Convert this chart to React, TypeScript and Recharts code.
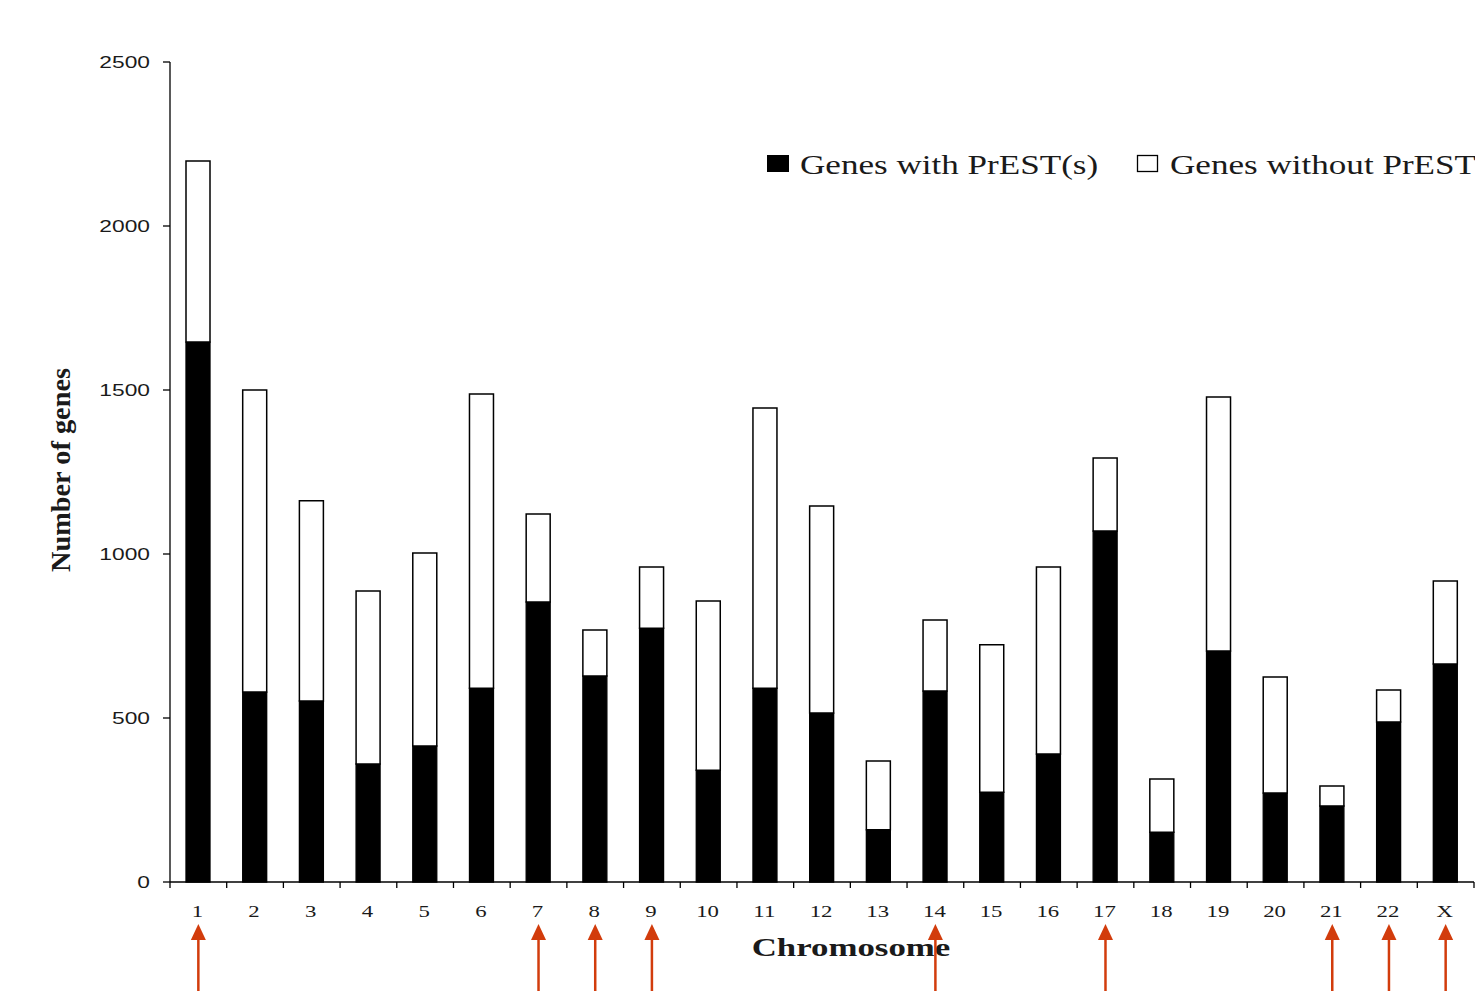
import React from 'react';
import { BarChart, Bar, XAxis, YAxis, Legend, Label } from 'recharts';

const chromosomes = ['1', '2', '3', '4', '5', '6', '7', '8', '9', '10', '11', '12', '13', '14', '15', '16', '17', '18', '19', '20', '21', '22', 'X'];
const genesWithPrest = [1646, 579, 552, 360, 415, 591, 854, 628, 774, 341, 591, 515, 159, 582, 274, 390, 1070, 152, 704, 271, 232, 488, 665];
const genesWithoutPrest = [552, 921, 610, 527, 588, 897, 268, 140, 186, 516, 854, 631, 210, 217, 449, 570, 223, 162, 775, 354, 61, 97, 253];
const highlighted = ['1', '7', '8', '9', '14', '17', '21', '22', 'X'];
const yTicks = [0, 500, 1000, 1500, 2000, 2500];
const seriesNames = ['Genes with PrEST(s)', 'Genes without PrEST'];

const data = chromosomes.map((c, i) => ({
  chromosome: c,
  withPrest: genesWithPrest[i],
  withoutPrest: genesWithoutPrest[i],
}));

const W = 1475;
const H = 991;
const LEFT = 170;
const RIGHT_MARGIN = 1;
const BAND = (W - LEFT - RIGHT_MARGIN) / chromosomes.length;
const RED = '#d23c0c';
const TEXT = '#1a1a1a';
const SX = 1.34;

const XTick = (props: any) => {
  const { x, y, payload, index } = props;
  const half = BAND / 2;
  const label = String(payload.value);
  const hl = highlighted.includes(label);
  const last = index === chromosomes.length - 1;
  return (
    <g>
      <line x1={x - half} x2={x - half} y1={y} y2={y + 6} stroke="#000" strokeWidth={1.3} />
      {last && <line x1={x + half} x2={x + half} y1={y} y2={y + 6} stroke="#000" strokeWidth={1.3} />}
      <text
        transform={`translate(${x - 1},${y + 35}) scale(${SX},1)`}
        textAnchor="middle"
        fontFamily="Liberation Serif"
        fontSize={17}
        fill={TEXT}
      >
        {label}
      </text>
      {hl && (
        <g>
          <line x1={x} x2={x} y1={y + 55} y2={H} stroke={RED} strokeWidth={2.5} />
          <polygon points={`${x},${y + 42} ${x - 7.5},${y + 58} ${x + 7.5},${y + 58}`} fill={RED} />
        </g>
      )}
    </g>
  );
};

const YTick = (props: any) => {
  const { x, y, payload } = props;
  return (
    <text
      transform={`translate(${x},${y + 6}) scale(${SX},1)`}
      textAnchor="end"
      fontFamily="Liberation Sans"
      fontSize={17}
      fill={TEXT}
    >
      {payload.value}
    </text>
  );
};

const XTitle = (props: any) => {
  const vb = props.viewBox || { x: LEFT, y: 882, width: W - LEFT, height: 109 };
  const cx = vb.x + vb.width / 2 + 29;
  return (
    <text
      transform={`translate(${cx},${vb.y + 74}) scale(${SX},1)`}
      textAnchor="middle"
      fontFamily="Liberation Serif"
      fontWeight="bold"
      fontSize={26}
      fill={TEXT}
    >
      Chromosome
    </text>
  );
};

const YTitle = (props: any) => {
  const vb = props.viewBox || { x: 0, y: 62, width: LEFT, height: 820 };
  const cy = vb.y + vb.height / 2 - 2;
  const bx = 70;
  return (
    <text
      transform={`rotate(-90, ${bx}, ${cy})`}
      x={bx}
      y={cy}
      textAnchor="middle"
      fontFamily="Liberation Serif"
      fontWeight="bold"
      fontSize={27}
      textLength={204}
      lengthAdjust="spacingAndGlyphs"
      fill={TEXT}
    >
      Number of genes
    </text>
  );
};

const LegendContent = () => (
  <svg width={725} height={50} style={{ overflow: 'visible', display: 'block' }}>
    <rect x={17} y={15} width={22} height={17} fill="#000" />
    <text transform={`translate(50,34) scale(1.3,1)`} fontFamily="Liberation Serif" fontSize={27} fill={TEXT}>
      {seriesNames[0]}
    </text>
    <rect x={387.5} y={15.5} width={20} height={16} fill="#fff" stroke="#000" strokeWidth={1.3} />
    <text transform={`translate(420,34) scale(1.3,1)`} fontFamily="Liberation Serif" fontSize={27} fill={TEXT}>
      {seriesNames[1]}
    </text>
  </svg>
);

export default function App() {
  return (
    <div style={{ position: 'absolute', left: 0, top: 0, width: W, height: H, background: '#fff', overflow: 'hidden' }}>
      <BarChart
        width={W}
        height={H}
        data={data}
        margin={{ top: 62, right: RIGHT_MARGIN, bottom: 0, left: 0 }}
        barSize={24}
      >
        <XAxis
          dataKey="chromosome"
          height={109}
          interval={0}
          tickSize={0}
          tickMargin={0}
          tickLine={false}
          tick={<XTick />}
          axisLine={{ stroke: '#000', strokeWidth: 1.3 }}
        >
          <Label content={<XTitle />} />
        </XAxis>
        <YAxis
          width={LEFT}
          domain={[0, 2500]}
          ticks={yTicks}
          interval={0}
          tickSize={7}
          tickMargin={13}
          tick={<YTick />}
          tickLine={{ stroke: '#000', strokeWidth: 1.3 }}
          axisLine={{ stroke: '#000', strokeWidth: 1.3 }}
        >
          <Label content={<YTitle />} />
        </YAxis>
        <Legend
          layout="horizontal"
          verticalAlign="middle"
          align="center"
          content={<LegendContent />}
          wrapperStyle={{ top: 140, left: 750, width: 725, height: 50 }}
        />
        <Bar dataKey="withPrest" name={seriesNames[0]} stackId="a" fill="#000" stroke="#000" strokeWidth={1.3} isAnimationActive={false} />
        <Bar dataKey="withoutPrest" name={seriesNames[1]} stackId="a" fill="#fff" stroke="#000" strokeWidth={1.5} isAnimationActive={false} />
      </BarChart>
    </div>
  );
}
